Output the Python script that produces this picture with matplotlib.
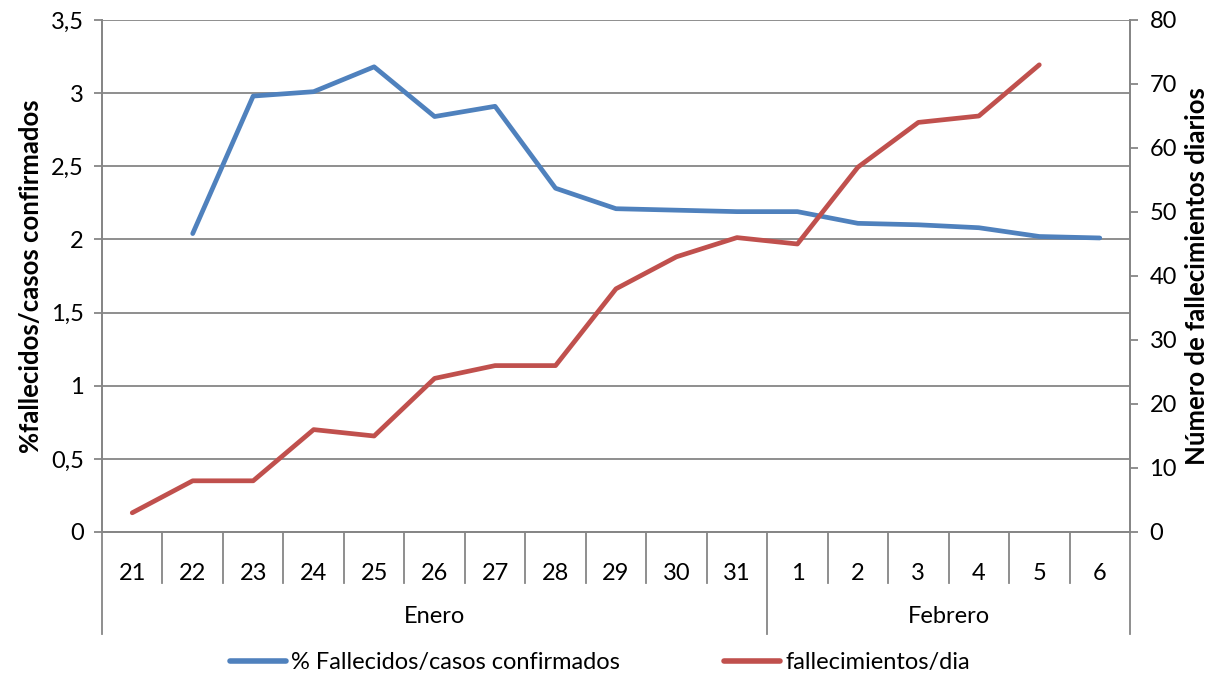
import numpy as np
import matplotlib.pyplot as plt
import matplotlib.transforms as mtransforms
from matplotlib.ticker import FuncFormatter

# data
days = ['21', '22', '23', '24', '25', '26', '27', '28', '29', '30', '31',
        '1', '2', '3', '4', '5', '6']
months = ['Enero', 'Febrero']
month_len = [11, 6]
pct_fallecidos = [np.nan, 2.04, 2.98, 3.01, 3.18, 2.84, 2.91, 2.35, 2.21, 2.20,
                  2.19, 2.19, 2.11, 2.10, 2.08, 2.02, 2.01]
muertes_dia = [3, 8, 8, 16, 15, 24, 26, 26, 38, 43, 46, 45, 57, 64, 65, 73, np.nan]

blue = '#4F81BD'
red = '#C0504D'
gray = '#868686'

plt.rcParams['font.family'] = ['Lato', 'DejaVu Sans']
plt.rcParams['font.size'] = 17

fig = plt.figure(figsize=(12.25, 6.78), dpi=100)
ax = fig.add_axes([102 / 1225, 1 - 532 / 678, 1028 / 1225, 512 / 678])
ax2 = ax.twinx()

x = np.arange(len(days))
l1, = ax.plot(x, pct_fallecidos, color=blue, lw=3.4, solid_capstyle='round',
              label='% Fallecidos/casos confirmados')
l2, = ax2.plot(x, muertes_dia, color=red, lw=3.4, solid_capstyle='round',
               label='fallecimientos/dia')

ax.set_xlim(-0.5, len(days) - 0.5)
ax.set_ylim(0, 3.5)
ax.set_yticks(np.arange(0, 3.51, 0.5))
ax.yaxis.set_major_formatter(FuncFormatter(lambda v, p: ('%g' % v).replace('.', ',')))
ax2.set_ylim(0, 80)
ax2.set_yticks(range(0, 81, 10))

ax.grid(axis='y', color=gray, lw=1.3)
ax.set_axisbelow(True)
for a in (ax, ax2):
    for s in a.spines.values():
        s.set_color(gray)
        s.set_linewidth(1.3)
    a.spines['top'].set_visible(False)
ax.tick_params(axis='y', colors=gray, labelcolor='black', length=6, width=1.3, pad=7)
ax2.tick_params(axis='y', colors=gray, labelcolor='black', length=6, width=1.3, pad=8)

# day labels
ax.set_xticks(x, days)
ax.tick_params(axis='x', length=0, pad=22)

# category separators (two-level axis)
trans = mtransforms.blended_transform_factory(ax.transData, ax.transAxes)
bounds = np.cumsum([0] + month_len) - 0.5
for b in np.arange(-0.5, len(days)):
    bottom = -0.199 if b in bounds else -0.0996
    ax.plot([b, b], [0, bottom], color=gray, lw=1.3, transform=trans, clip_on=False)

start = 0
for m, n in zip(months, month_len):
    ax.text(start + (n - 1) / 2, -0.166, m, transform=trans, ha='center', va='center')
    start += n

ax.set_ylabel('%fallecidos/casos confirmados', fontweight='bold', fontsize=18.5, labelpad=6)
ax2.set_ylabel('Número de fallecimientos diarios', fontweight='bold', fontsize=18.5, labelpad=6)

leg = fig.legend(handles=[l1, l2], loc='center', bbox_to_anchor=(0.4895, 1 - 663 / 678),
                 ncol=2, frameon=False, handlelength=2.4, columnspacing=4.4,
                 handletextpad=0.2, borderpad=0, borderaxespad=0)
for h in leg.get_lines():
    h.set_linewidth(4)

fig.savefig('out.png', dpi=100)
